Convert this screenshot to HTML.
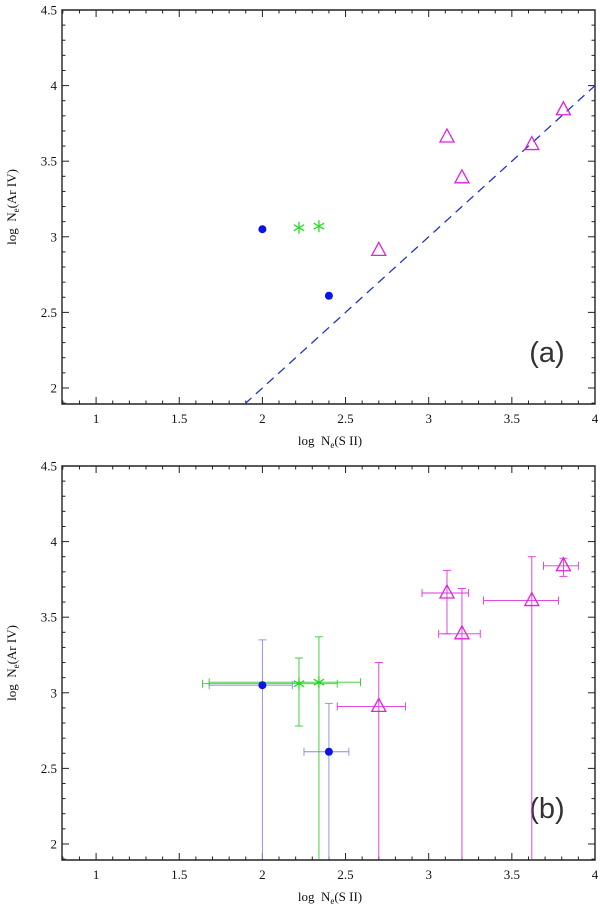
<!DOCTYPE html>
<html><head><meta charset="utf-8"><style>
body{margin:0;background:#fff}
svg text{font-family:"Liberation Serif",serif;fill:#111}
</style></head><body>
<svg id="chart" width="600" height="912" viewBox="0 0 600 912" xmlns="http://www.w3.org/2000/svg"></svg>
<script>
const xTicks=[1,1.5,2,2.5,3,3.5,4];
const yTicks=[2,2.5,3,3.5,4,4.5];
const blueX=[2.0,2.40];
const blueY=[3.05,2.61];
const blueXlo=[1.68,2.25], blueXhi=[2.18,2.52];
const blueYlo=[1.9,1.9], blueYhi=[3.35,2.93];
const greenX=[2.22,2.34];
const greenY=[3.06,3.07];
const greenXlo=[1.64,1.68], greenXhi=[2.45,2.59];
const greenYlo=[2.78,1.9], greenYhi=[3.23,3.37];
const magX=[2.70,3.11,3.20,3.62,3.81];
const magY=[2.91,3.66,3.39,3.61,3.84];
const magXlo=[2.45,2.96,3.06,3.33,3.69], magXhi=[2.86,3.24,3.31,3.78,3.90];
const magYlo=[1.9,3.39,1.9,1.9,3.77], magYhi=[3.20,3.81,3.69,3.90,3.89];
const X0=0.795,X1=4,Y0=1.894,Y1=4.5;
const svg=document.getElementById('chart');
const NS='http://www.w3.org/2000/svg';
function mk(tag,at,parent){const e=document.createElementNS(NS,tag);for(const k in at)e.setAttribute(k,at[k]);(parent||svg).appendChild(e);return e;}
function panel(top,label,withErr){
  const L=62,R=595,T=top,B=top+394;
  const g=mk('g',{});
  
  
  const sx=v=>L+(v-X0)/(X1-X0)*(R-L);
  const sy=v=>B-(v-Y0)/(Y1-Y0)*(B-T);
  const clip=mk('clipPath',{id:'c'+label},g);mk('rect',{x:L,y:T,width:R-L,height:B-T},clip);
  const fr=mk('path',{d:`M${L},${T}H${R}V${B}H${L}Z`,fill:'none',stroke:'#222','stroke-width':1.4},g);
  
  
  for(let i=8;i<=40;i++){const v=i/10,x=sx(v),len=(i%5==0)?7:3.5;
    mk('line',{x1:x,x2:x,y1:B,y2:B-len,stroke:'#222'},g);mk('line',{x1:x,x2:x,y1:T,y2:T+len,stroke:'#222'},g);}
  for(let i=19;i<=45;i++){const v=i/10,y=sy(v),len=(i%5==0)?7:3.5;
    mk('line',{x1:L,x2:L+len,y1:y,y2:y,stroke:'#222'},g);mk('line',{x1:R,x2:R-len,y1:y,y2:y,stroke:'#222'},g);}
  xTicks.forEach(v=>{const t=mk('text',{x:sx(v),y:B+19,'text-anchor':'middle','font-size':13},g);t.textContent=String(v);
    
    });
  yTicks.forEach(v=>{const t=mk('text',{x:L-5,y:sy(v)+4.5,'text-anchor':'end','font-size':13},g);t.textContent=String(v);
    
    });
  const xt=mk('text',{x:330,y:B+41,'text-anchor':'middle','font-size':13},g);
  xt.innerHTML='log&#160;&#160;N<tspan font-size="9" dy="3">e</tspan><tspan dy="-3">(S II)</tspan>';
  
  
  const yt=mk('text',{x:0,y:0,'text-anchor':'middle','font-size':13,transform:`translate(16,${(T+B)/2}) rotate(-90)`},g);
  yt.innerHTML='log&#160;&#160;N<tspan font-size="9" dy="3">e</tspan><tspan dy="-3">(Ar IV)</tspan>';
  
  
  const pl=mk('text',{x:547,y:T+352,'text-anchor':'middle','font-size':29,style:'font-family:"Liberation Sans",sans-serif;fill:#333'},g);pl.textContent='('+label+')';
  
  
  const d=mk('g',{'clip-path':`url(#c${label})`},g);
  if(!withErr){const ln=mk('line',{x1:sx(Y0),y1:sy(Y0),x2:sx(4),y2:sy(4),stroke:'#2233cc','stroke-width':1.3,'stroke-dasharray':'9,6'},d);
    
    }
  function err(xs,ys,xl,xh,yl,yh,col){if(!withErr)return;xs.forEach((x,i)=>{
    const e=mk('g',{stroke:col,'stroke-width':0.9},d);
    
    
    mk('line',{x1:sx(xl[i]),x2:sx(xh[i]),y1:sy(ys[i]),y2:sy(ys[i])},e);
    mk('line',{x1:sx(xl[i]),x2:sx(xl[i]),y1:sy(ys[i])-4,y2:sy(ys[i])+4},e);
    mk('line',{x1:sx(xh[i]),x2:sx(xh[i]),y1:sy(ys[i])-4,y2:sy(ys[i])+4},e);
    mk('line',{x1:sx(x),x2:sx(x),y1:sy(yl[i]),y2:sy(yh[i])},e);
    mk('line',{x1:sx(x)-4,x2:sx(x)+4,y1:sy(yh[i]),y2:sy(yh[i])},e);
    if(yl[i]>1.95)mk('line',{x1:sx(x)-4,x2:sx(x)+4,y1:sy(yl[i]),y2:sy(yl[i])},e);});}
  err(blueX,blueY,blueXlo,blueXhi,blueYlo,blueYhi,'#8888ee');
  err(greenX,greenY,greenXlo,greenXhi,greenYlo,greenYhi,'#33cc33');
  err(magX,magY,magXlo,magXhi,magYlo,magYhi,'#dd33dd');
  blueX.forEach((x,i)=>{const c=mk('circle',{cx:sx(x),cy:sy(blueY[i]),r:4,fill:'#0a14e6'},d);
    
    });
  greenX.forEach((x,i)=>{const cx=sx(x),cy=sy(greenY[i]);const s=mk('g',{stroke:'#22dd22','stroke-width':1.3},d);
    
    
    for(let a=0;a<3;a++){const an=Math.PI/2+a*Math.PI/3,dx=6*Math.cos(an),dy=6*Math.sin(an);
      mk('line',{x1:cx-dx,y1:cy-dy,x2:cx+dx,y2:cy+dy},s);}});
  magX.forEach((x,i)=>{const cx=sx(x),cy=sy(magY[i]);
    const p=mk('polygon',{points:`${cx-7},${cy+5} ${cx+7},${cy+5} ${cx},${cy-8}`,fill:'none',stroke:'#e020e0','stroke-width':1.3},d);
    
    });
}
panel(10,'a',false);
panel(466,'b',true);
</script>
</body></html>
